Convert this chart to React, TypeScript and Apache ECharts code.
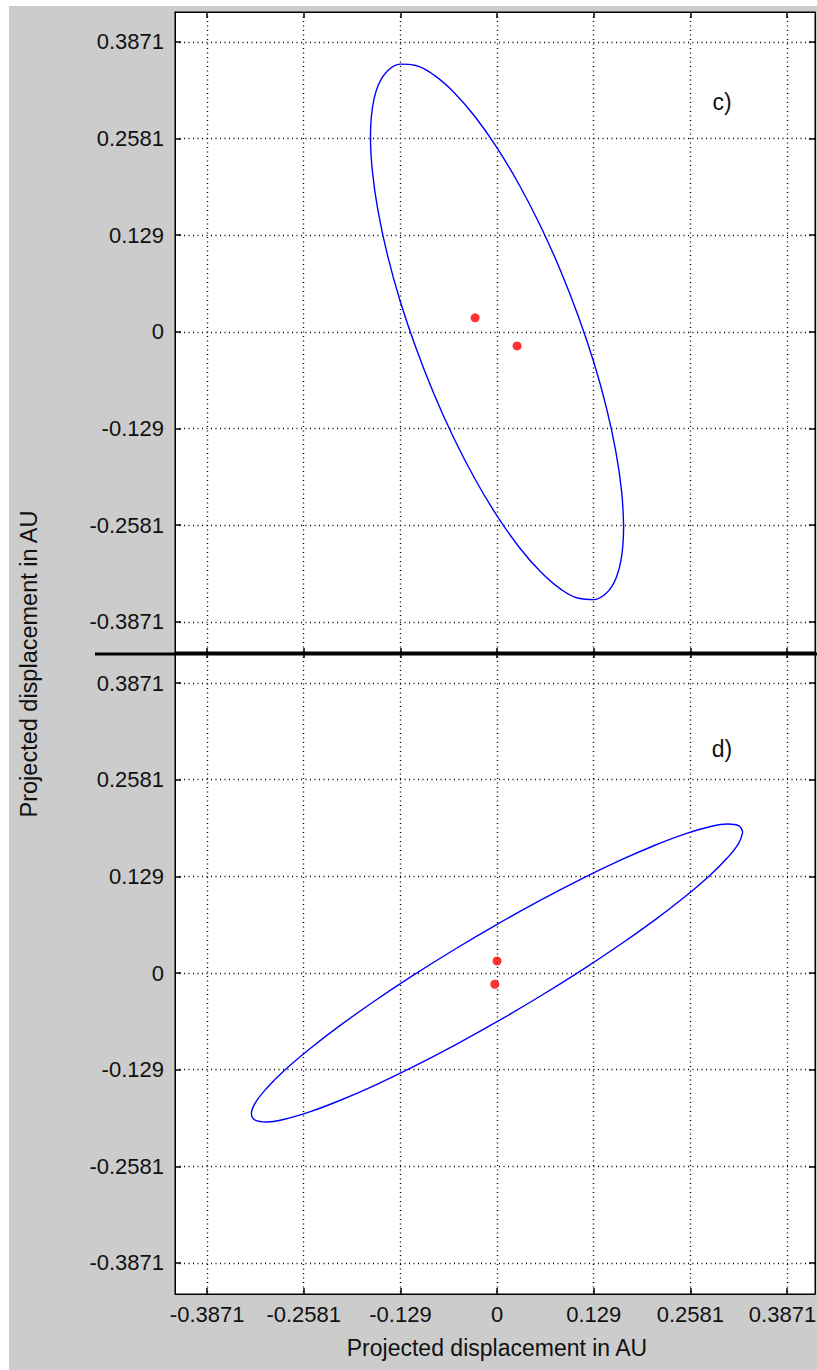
import React, { useEffect, useRef } from "react";
import * as echarts from "echarts";

// Tick values shared by both axes of both panels
const TICKS: number[] = [-0.3871, -0.2581, -0.129, 0, 0.129, 0.2581, 0.3871];

// Panel c) : error ellipse outline (x, y) in AU
const ellipseC: [number, number][] = [
  [0.169, -0.2605], [0.1664, -0.2139], [0.1588, -0.1608], [0.1464, -0.1028],
  [0.1295, -0.0416], [0.1086, 0.0206], [0.0845, 0.0824], [0.0578, 0.1417],
  [0.0293, 0.1967], [0.0, 0.2456], [-0.0293, 0.2871], [-0.0578, 0.3199],
  [-0.0845, 0.343], [-0.1086, 0.3556], [-0.1295, 0.3574], [-0.1464, 0.3484],
  [-0.1588, 0.3288], [-0.1664, 0.2991], [-0.169, 0.2605], [-0.1664, 0.2139],
  [-0.1588, 0.1608], [-0.1464, 0.1028], [-0.1295, 0.0416], [-0.1086, -0.0206],
  [-0.0845, -0.0824], [-0.0578, -0.1417], [-0.0293, -0.1967], [0.0, -0.2456],
  [0.0293, -0.2871], [0.0578, -0.3199], [0.0845, -0.343], [0.1086, -0.3556],
  [0.1295, -0.3574], [0.1464, -0.3484], [0.1588, -0.3288], [0.1664, -0.2991],
  [0.169, -0.2605],
];
// Panel c) : the two red points
const pointsC: [number, number][] = [
  [-0.0293, 0.0187],
  [0.0267, -0.0187],
];

// Panel d) : error ellipse outline (x, y) in AU
const ellipseD: [number, number][] = [
  [0.328, 0.188], [0.323, 0.1964], [0.3082, 0.1989], [0.284, 0.1953],
  [0.2512, 0.1858], [0.2108, 0.1706], [0.164, 0.1503], [0.1122, 0.1254],
  [0.0569, 0.0966], [0.0, 0.065], [-0.0569, 0.0314], [-0.1122, -0.0032],
  [-0.164, -0.0377], [-0.2108, -0.071], [-0.2512, -0.1022], [-0.284, -0.1303],
  [-0.3082, -0.1545], [-0.323, -0.1738], [-0.328, -0.188], [-0.323, -0.1964],
  [-0.3082, -0.1989], [-0.284, -0.1953], [-0.2512, -0.1858], [-0.2108, -0.1706],
  [-0.164, -0.1503], [-0.1122, -0.1254], [-0.0569, -0.0966], [0.0, -0.065],
  [0.0569, -0.0314], [0.1122, 0.0032], [0.164, 0.0377], [0.2108, 0.071],
  [0.2512, 0.1022], [0.284, 0.1303], [0.3082, 0.1545], [0.323, 0.1738],
  [0.328, 0.188],
];
// Panel d) : the two red points
const pointsD: [number, number][] = [
  [0.0, 0.016],
  [-0.003, -0.015],
];

const AXIS_TITLE = "Projected displacement in AU";
const PANEL_LABELS = ["c)", "d)"];

const X_MIN = -0.43;
const X_MAX = 0.4245;
const YC_MIN = -0.43;
const YC_MAX = 0.427;
const YD_MIN = -0.4286;
const YD_MAX = 0.4286;

const FONT = "Liberation Sans, Arial, Helvetica, sans-serif";
const TEXT_COLOR = "#111";
const TICK_FONT_SIZE = 22;

function fmt(v: number): string {
  return String(Number(Number(v).toFixed(4)));
}

function makeAxis(
  dim: "x" | "y",
  gridIndex: number,
  position: string,
  min: number,
  max: number,
  showLabel: boolean,
  showSplit: boolean
) {
  const lastTick = TICKS[TICKS.length - 1];
  return {
    type: "value",
    gridIndex,
    position,
    min,
    max,
    axisLine: { show: true, onZero: false, lineStyle: { color: "#000", width: 1 } },
    axisTick: {
      show: true,
      inside: true,
      length: 6,
      customValues: TICKS,
      lineStyle: { color: "#000", width: 1.5 },
    },
    axisLabel: {
      show: showLabel,
      customValues: TICKS,
      formatter: (v: number) => {
        const s = fmt(v);
        // the right-most x label sits against the page edge: nudge it inside
        if (dim === "x" && Math.abs(v - lastTick) < 1e-6) return `{edge|${s}}`;
        return s;
      },
      color: TEXT_COLOR,
      fontFamily: FONT,
      fontSize: TICK_FONT_SIZE,
      margin: dim === "y" ? 11 : 9,
      rich: {
        edge: {
          color: TEXT_COLOR,
          fontFamily: FONT,
          fontSize: TICK_FONT_SIZE,
          padding: [0, 9, 0, 0],
        },
      },
    },
    splitLine: {
      show: showSplit,
      lineStyle: { color: "#000", width: 1.4, type: [1, 3.5] },
    },
  };
}

export default function App() {
  const ref = useRef<HTMLDivElement>(null);

  useEffect(() => {
    document.body.style.overflow = "hidden";
    if (!ref.current) return;
    const chart = echarts.init(ref.current, undefined, { renderer: "svg" });

    const option = {
      animation: false,
      backgroundColor: "transparent",
      grid: [
        {
          left: 175, top: 12, width: 640, height: 642,
          outerBoundsMode: "none", containLabel: false,
          show: true, backgroundColor: "#ffffff", borderColor: "#000", borderWidth: 1,
        },
        {
          left: 175, top: 652, width: 640, height: 642,
          outerBoundsMode: "none", containLabel: false,
          show: true, backgroundColor: "#ffffff", borderColor: "#000", borderWidth: 1,
        },
      ],
      xAxis: [
        makeAxis("x", 0, "bottom", X_MIN, X_MAX, false, true),
        makeAxis("x", 0, "top", X_MIN, X_MAX, false, false),
        makeAxis("x", 1, "bottom", X_MIN, X_MAX, true, true),
        makeAxis("x", 1, "top", X_MIN, X_MAX, false, false),
      ],
      yAxis: [
        makeAxis("y", 0, "left", YC_MIN, YC_MAX, true, true),
        makeAxis("y", 0, "right", YC_MIN, YC_MAX, false, false),
        makeAxis("y", 1, "left", YD_MIN, YD_MAX, true, true),
        makeAxis("y", 1, "right", YD_MIN, YD_MAX, false, false),
      ],
      series: [
        {
          type: "line",
          name: "ellipse c",
          xAxisIndex: 0,
          yAxisIndex: 0,
          data: ellipseC,
          showSymbol: false,
          smooth: 0.4,
          lineStyle: { color: "#0000ff", width: 1.4 },
          z: 5,
        },
        {
          type: "scatter",
          name: "points c",
          xAxisIndex: 0,
          yAxisIndex: 0,
          data: pointsC,
          symbolSize: 9,
          itemStyle: { color: "#ff0000" },
          z: 6,
        },
        {
          type: "line",
          name: "ellipse d",
          xAxisIndex: 2,
          yAxisIndex: 2,
          data: ellipseD,
          showSymbol: false,
          smooth: 0.4,
          lineStyle: { color: "#0000ff", width: 1.4 },
          z: 5,
        },
        {
          type: "scatter",
          name: "points d",
          xAxisIndex: 2,
          yAxisIndex: 2,
          data: pointsD,
          symbolSize: 9,
          itemStyle: { color: "#ff0000" },
          z: 6,
        },
      ],
      graphic: [
        {
          type: "line",
          z: 100,
          shape: { x1: 95, y1: 654, x2: 817, y2: 654 },
          style: { stroke: "#000", lineWidth: 3 },
        },
        {
          type: "text",
          z: 100,
          x: 29,
          y: 664,
          rotation: Math.PI / 2,
          style: {
            text: AXIS_TITLE,
            fill: TEXT_COLOR,
            font: `23.5px ${FONT}`,
            align: "center",
            verticalAlign: "middle",
          },
        },
        {
          type: "text",
          z: 100,
          x: 497,
          y: 1348,
          style: {
            text: AXIS_TITLE,
            fill: TEXT_COLOR,
            font: `23px ${FONT}`,
            align: "center",
            verticalAlign: "middle",
          },
        },
        {
          type: "text",
          z: 100,
          x: 722,
          y: 102,
          style: {
            text: PANEL_LABELS[0],
            fill: TEXT_COLOR,
            font: `23px ${FONT}`,
            align: "center",
            verticalAlign: "middle",
          },
        },
        {
          type: "text",
          z: 100,
          x: 722,
          y: 749,
          style: {
            text: PANEL_LABELS[1],
            fill: TEXT_COLOR,
            font: `23px ${FONT}`,
            align: "center",
            verticalAlign: "middle",
          },
        },
      ],
    };

    chart.setOption(option as any);
    return () => {
      chart.dispose();
    };
  }, []);

  return (
    <div
      style={{
        position: "fixed",
        left: 0,
        top: 0,
        width: 817,
        height: 1370,
        background: "#ffffff",
        overflow: "hidden",
      }}
    >
      <div
        style={{
          position: "absolute",
          left: 9,
          top: 6,
          width: 808,
          height: 1364,
          background: "#cccccc",
        }}
      />
      <div
        ref={ref}
        style={{ position: "absolute", left: 0, top: 0, width: 817, height: 1370 }}
      />
    </div>
  );
}
